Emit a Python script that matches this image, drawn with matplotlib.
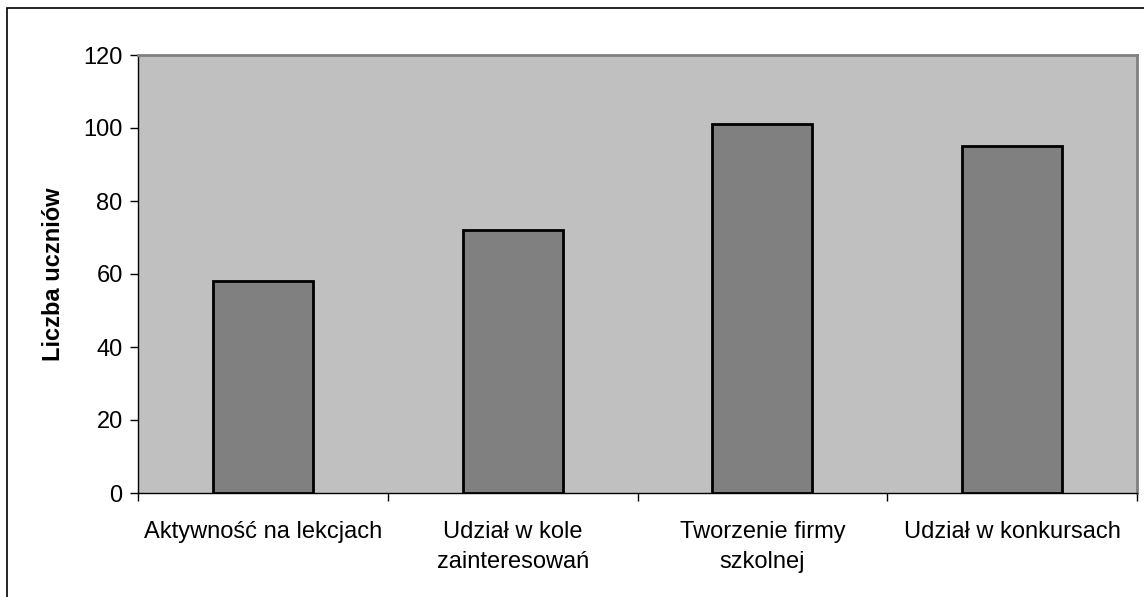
import matplotlib
matplotlib.use("Agg")
import matplotlib.pyplot as plt
from matplotlib.patches import Rectangle

# data
categories = ["Aktywność na lekcjach", "Udział w kole\nzainteresowań",
              "Tworzenie firmy\nszkolnej", "Udział w konkursach"]
values = [58, 72, 101, 95]
y_ticks = [0, 20, 40, 60, 80, 100, 120]

plt.rcParams['font.family'] = ['Liberation Sans', 'DejaVu Sans']

fig = plt.figure(figsize=(11.44, 5.97), dpi=100)
fig.patch.set_facecolor("white")
# outer chart border (only left/top visible in the crop)
fig.patches.append(Rectangle((7 / 1144, -0.1), 1.2, 1 - 8 / 597 + 0.1,
                             transform=fig.transFigure, fill=False,
                             edgecolor="black", linewidth=1.2))

ax = fig.add_axes([138 / 1144, 1 - 493 / 597, 999 / 1144, 438 / 597])
ax.set_facecolor("#c0c0c0")

x = list(range(len(categories)))
ax.bar(x, values, width=0.4, color="#808080", edgecolor="black", linewidth=2, zorder=3)

ax.set_xlim(-0.5, len(categories) - 0.5)
ax.set_ylim(0, 120)
ax.set_yticks(y_ticks)
ax.tick_params(axis="y", direction="out", length=6, width=1, labelsize=17, pad=5)

# category labels between boundary ticks
ax.set_xticks([i + 0.5 for i in range(-1, len(categories))])
ax.set_xticklabels([])
ax.tick_params(axis="x", direction="out", length=6, width=1, color="black")
ax.set_xticks(x, minor=True)
ax.set_xticklabels(categories, minor=True, fontsize=17, linespacing=1.45, va="top")
ax.tick_params(axis="x", which="minor", length=0, pad=20.5)

for side in ["top", "right"]:
    ax.spines[side].set_color("#808080")
    ax.spines[side].set_linewidth(2)
for side in ["left", "bottom"]:
    ax.spines[side].set_color("black")
    ax.spines[side].set_linewidth(1)

ax.set_ylabel("Liczba uczniów", fontsize=17, fontweight="bold", labelpad=13)

fig.savefig("out.png", dpi=100)
